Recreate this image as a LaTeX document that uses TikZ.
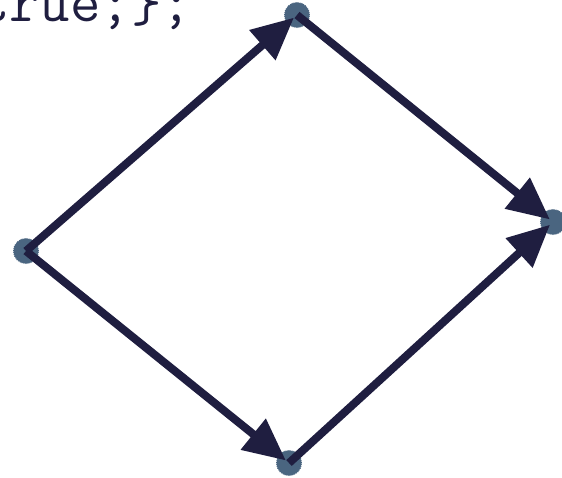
\documentclass[tikz,border=0pt]{standalone}
\usepackage{fontspec}
\usetikzlibrary{arrows.meta}
\definecolor{edgecol}{RGB}{31,30,64}
\definecolor{dotcol}{RGB}{74,101,128}

\begin{document}
\begin{tikzpicture}[x=1pt, y=-1pt,
    vertex/.style={circle, fill=dotcol, draw=dotcol, densely dotted, line width=1pt, minimum size=25pt, inner sep=0pt},
    link/.style={draw=edgecol, line width=8pt, -{Triangle[length=42pt,width=38pt]}, shorten >=4pt}]
      \useasboundingbox (0,0) rectangle (562,477);
      \clip (0,0) rectangle (562,477);

      % Mẩu mã bị cắt ở góc trên
      \node[anchor=base east, inner sep=0pt, text=edgecol, font=\ttfamily\fontsize{59}{59}\selectfont] (code) at (192,21) {true;\};};

      % Các đỉnh
      \node[vertex] (l) at (26,251) {};
      \node[vertex] (t) at (297,15) {};
      \node[vertex] (r) at (553,222) {};
      \node[vertex] (b) at (289,463) {};

      % Các cạnh có hướng
      \draw[link] (l.center) -- (t.center);
      \draw[link] (t.center) -- (r.center);
      \draw[link] (l.center) -- (b.center);
      \draw[link] (b.center) -- (r.center);
    \end{tikzpicture}
\end{document}
